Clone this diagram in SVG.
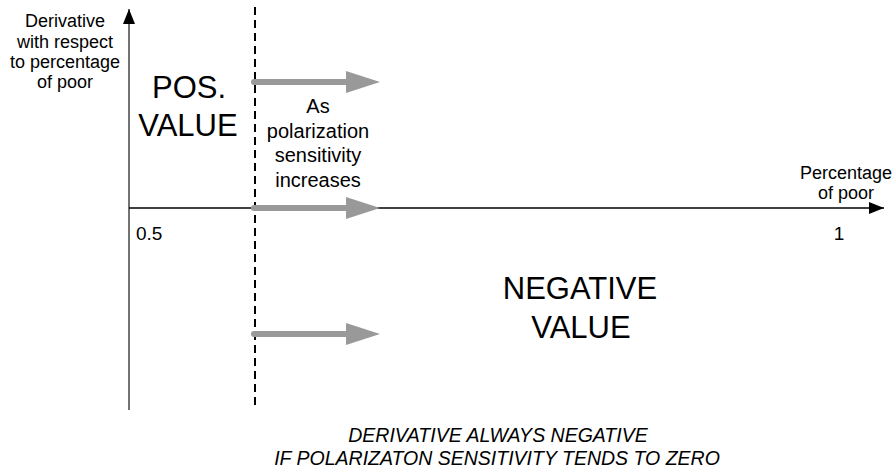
<svg xmlns="http://www.w3.org/2000/svg" width="896" height="473" viewBox="0 0 896 473">
<style>
text{font-family:"Liberation Sans",Arial,sans-serif;fill:#000}
.lbl{font-size:18px}
.mid{font-size:20px}
.big{font-size:31px}
.tick{font-size:19px}
.ital{font-size:19.5px;font-style:italic}
.garrow{stroke:#999;stroke-width:6;stroke-linecap:round;fill:none}
.ghead{fill:#999}
</style>
<defs>
<marker id="ah" markerWidth="16" markerHeight="12" refX="15" refY="6" orient="auto" markerUnits="userSpaceOnUse">
<path d="M0,0 L15,6 L0,12 Z" fill="#000"/>
</marker>
</defs>
<g id="connectors">
<line id="y-axis" x1="129" y1="410" x2="129" y2="9" stroke="#444" stroke-width="1.5" marker-end="url(#ah)"/>
<line id="x-axis" x1="129" y1="208" x2="884" y2="208" stroke="#000" stroke-width="1.3" marker-end="url(#ah)"/>
<line id="divider" x1="255" y1="7" x2="255" y2="410" stroke="#000" stroke-width="2" stroke-dasharray="8,5"/>
<g id="arrow-top"><line class="garrow" x1="254" y1="82" x2="348" y2="82"/><path class="ghead" d="M346,71 L380,82 L346,93 Z"/></g>
<g id="arrow-mid"><line class="garrow" x1="254" y1="208" x2="348" y2="208"/><path class="ghead" d="M346,197 L380,208 L346,219 Z"/></g>
<g id="arrow-bot"><line class="garrow" x1="254" y1="334" x2="348" y2="334"/><path class="ghead" d="M346,323 L380,334 L346,345 Z"/></g>
</g>
<g id="y-label" class="lbl" text-anchor="middle">
<text x="65" y="27">Derivative</text>
<text x="65" y="47.5">with respect</text>
<text x="65" y="68">to percentage</text>
<text x="65" y="88">of poor</text>
</g>
<g id="x-label" class="lbl" text-anchor="middle">
<text x="846" y="179">Percentage</text>
<text x="846" y="199">of poor</text>
</g>
<g id="pos-value" class="big" text-anchor="middle">
<text x="189" y="98">POS.</text>
<text x="188" y="136">VALUE</text>
</g>
<g id="note" class="mid" text-anchor="middle">
<text x="318" y="113">As</text>
<text x="318" y="138">polarization</text>
<text x="318" y="162">sensitivity</text>
<text x="318" y="187">increases</text>
</g>
<g id="ticks" class="tick">
<text x="136" y="240">0.5</text>
<text x="839" y="240" text-anchor="middle">1</text>
</g>
<g id="neg-value" class="big" text-anchor="middle">
<text x="580" y="299">NEGATIVE</text>
<text x="581" y="338">VALUE</text>
</g>
<g id="caption" class="ital" text-anchor="middle">
<text x="498" y="442">DERIVATIVE ALWAYS NEGATIVE</text>
<text x="497" y="465">IF POLARIZATON SENSITIVITY TENDS TO ZERO</text>
</g>
</svg>
